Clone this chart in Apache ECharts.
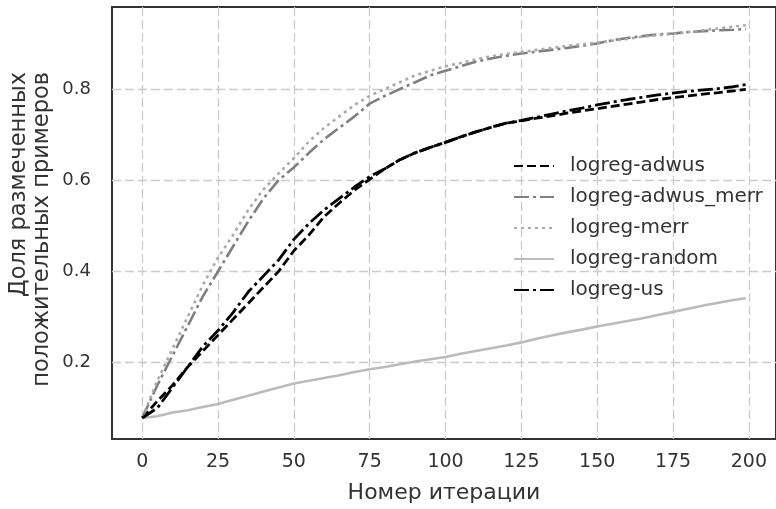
<!DOCTYPE html>
<html>
<head>
<meta charset="utf-8">
<script src="https://cdn.jsdelivr.net/npm/echarts@6/dist/echarts.min.js"></script>
<style>
html,body{margin:0;padding:0;background:#fff;overflow:hidden;}
#c{width:776px;height:509px;}
</style>
</head>
<body>
<div id="c"></div>
<script>
const iterations = [0,5,10,15,20,25,30,35,40,45,50,55,60,65,70,75,80,85,90,95,100,105,110,115,120,125,130,135,140,145,150,155,160,165,170,175,180,185,190,195,199];
const adwus = [0.078,0.115,0.15,0.19,0.225,0.26,0.295,0.33,0.365,0.40,0.445,0.48,0.52,0.55,0.578,0.602,0.625,0.645,0.66,0.672,0.683,0.695,0.706,0.716,0.725,0.73,0.736,0.741,0.747,0.752,0.757,0.762,0.767,0.772,0.777,0.781,0.785,0.789,0.792,0.796,0.799];
const adwusMerr = [0.078,0.15,0.215,0.28,0.345,0.40,0.455,0.51,0.56,0.60,0.628,0.66,0.69,0.715,0.74,0.768,0.785,0.80,0.815,0.83,0.84,0.85,0.86,0.867,0.873,0.878,0.882,0.886,0.89,0.895,0.90,0.907,0.912,0.916,0.92,0.922,0.925,0.927,0.929,0.93,0.932];
const merr = [0.078,0.16,0.23,0.30,0.37,0.43,0.48,0.535,0.58,0.615,0.648,0.685,0.715,0.74,0.765,0.785,0.80,0.815,0.83,0.84,0.85,0.857,0.865,0.872,0.877,0.881,0.886,0.89,0.895,0.898,0.902,0.906,0.91,0.915,0.918,0.921,0.925,0.929,0.933,0.937,0.94];
const random = [0.078,0.082,0.09,0.095,0.102,0.109,0.118,0.127,0.136,0.145,0.154,0.16,0.166,0.172,0.179,0.185,0.19,0.196,0.202,0.207,0.212,0.219,0.225,0.231,0.237,0.244,0.252,0.259,0.266,0.272,0.279,0.285,0.291,0.297,0.304,0.311,0.318,0.325,0.331,0.337,0.341];
const us = [0.078,0.10,0.145,0.19,0.235,0.27,0.31,0.355,0.39,0.425,0.47,0.505,0.535,0.56,0.585,0.608,0.625,0.645,0.66,0.672,0.683,0.695,0.706,0.716,0.725,0.731,0.738,0.745,0.752,0.758,0.765,0.771,0.777,0.782,0.787,0.791,0.795,0.798,0.801,0.805,0.81];
const xTicks = [0,25,50,75,100,125,150,175,200];
const yTicks = [0.2,0.4,0.6,0.8];
const seriesNames = ['logreg-adwus','logreg-adwus_merr','logreg-merr','logreg-random','logreg-us'];
const yTitleLines = ['Доля размеченных','положительных примеров'];

function pairs(ys){ return iterations.map((x,i)=>[x,ys[i]]); }

const chart = echarts.init(document.getElementById('c'), null, {renderer:'canvas'});
const fontFam = '"DejaVu Sans", sans-serif';
const gridLine = {show:true, lineStyle:{color:'#cccccc', width:1.3, type:[9,4]}};
function mk(name, data, color, type, w){
  return {name, type:'line', data:pairs(data), showSymbol:false, symbol:'none', smooth:false,
    lineStyle:{color, width:w, type}, itemStyle:{color}, emphasis:{disabled:true}, animation:false};
}
chart.setOption({
  animation:false,
  grid:{left:112, top:7, width:670, height:438, show:true, borderColor:'#333', borderWidth:2, backgroundColor:'transparent', containLabel:false},
  xAxis:{type:'value', min:-9.95, max:208.95,
    axisLine:{show:false}, axisTick:{show:false, customValues:xTicks},
    axisLabel:{customValues:xTicks, color:'#333', fontSize:19, fontFamily:fontFam, margin:14},
    splitLine:gridLine,
    name:'Номер итерации', nameLocation:'middle', nameGap:43,
    nameTextStyle:{color:'#333', fontSize:22, fontFamily:fontFam}},
  yAxis:{type:'value', min:0.032, max:0.98,
    axisLine:{show:false}, axisTick:{show:false, customValues:yTicks},
    axisLabel:{customValues:yTicks, color:'#333', fontSize:18, fontFamily:fontFam, margin:21, formatter:v=>v.toFixed(1)},
    splitLine:gridLine},
  legend:{orient:'vertical', left:513, top:156, padding:0, itemWidth:40, itemHeight:14, itemGap:11,
    data:seriesNames, itemStyle:{opacity:0},
    textStyle:{color:'#333', fontSize:20, fontFamily:fontFam, lineHeight:20, padding:[0,0,0,11]},
    backgroundColor:'transparent', selectedMode:false},
  graphic:[
    {type:'text', x:8, y:72, rotation:Math.PI/2,
      style:{text:yTitleLines[0], align:'right', verticalAlign:'top', font:'22.5px "DejaVu Sans", sans-serif', fill:'#333'}},
    {type:'text', x:31, y:72, rotation:Math.PI/2,
      style:{text:yTitleLines[1], align:'right', verticalAlign:'top', font:'22.5px "DejaVu Sans", sans-serif', fill:'#333'}}
  ],
  series:[
    mk(seriesNames[0], adwus, '#000000', [9,4], 2.8),
    mk(seriesNames[1], adwusMerr, '#7f7f7f', [15,4,3,4], 2.6),
    mk(seriesNames[2], merr, '#aaaaaa', [3,4], 2.6),
    mk(seriesNames[3], random, '#bbbbbb', 'solid', 2.6),
    mk(seriesNames[4], us, '#000000', [15,4,3,4], 2.8)
  ]
});
</script>
</body>
</html>
